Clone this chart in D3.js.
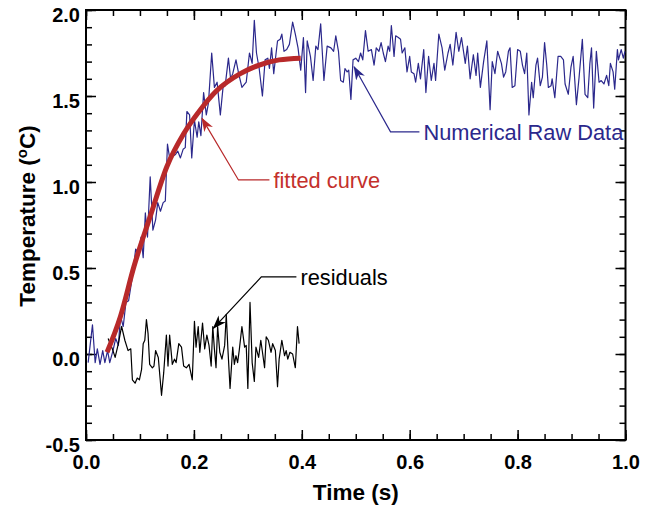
<!DOCTYPE html>
<html>
<head>
    <meta charset="UTF-8" />
    <title>Temperature fit</title>
    <script src="https://d3js.org/d3.v7.min.js"></script>
    <style>
        body { margin: 0; background: #fff; }
        text { font-family: "Liberation Sans", Arial, sans-serif; }
    </style>
</head>

<body>
<div id="main"></div>
<script type="text/javascript">

const rawTime = [0.004, 0.012, 0.017, 0.021, 0.026, 0.031, 0.035, 0.040, 0.044, 0.050, 0.055, 0.060, 0.064, 0.069, 0.074, 0.079,
  0.083, 0.087, 0.092, 0.098, 0.102, 0.106, 0.110, 0.114, 0.119, 0.124, 0.129, 0.133, 0.138, 0.143, 0.147, 0.151,
  0.156, 0.161, 0.166, 0.170, 0.175, 0.180, 0.184, 0.187, 0.192, 0.196, 0.201, 0.206, 0.209, 0.213, 0.218, 0.223,
  0.227, 0.233, 0.238, 0.243, 0.249, 0.254, 0.258, 0.264, 0.268, 0.272, 0.278, 0.283, 0.289, 0.297, 0.303, 0.308,
  0.312, 0.316, 0.321, 0.327, 0.332, 0.337, 0.340, 0.344, 0.348, 0.352, 0.355, 0.360, 0.363, 0.367, 0.372, 0.377,
  0.383, 0.388, 0.393, 0.398, 0.403, 0.407, 0.410, 0.416, 0.421, 0.426, 0.430, 0.435, 0.441, 0.447, 0.454, 0.459,
  0.463, 0.468, 0.472, 0.477, 0.480, 0.484, 0.487, 0.491, 0.495, 0.500, 0.505, 0.509, 0.513, 0.518, 0.523, 0.529,
  0.534, 0.538, 0.543, 0.547, 0.551, 0.555, 0.560, 0.563, 0.566, 0.571, 0.574, 0.579, 0.583, 0.586, 0.591, 0.595,
  0.600, 0.603, 0.608, 0.611, 0.616, 0.620, 0.626, 0.630, 0.635, 0.640, 0.645, 0.648, 0.654, 0.660, 0.665, 0.671,
  0.675, 0.680, 0.686, 0.691, 0.696, 0.703, 0.707, 0.712, 0.718, 0.723, 0.726, 0.731, 0.737, 0.743, 0.749, 0.753,
  0.758, 0.763, 0.770, 0.774, 0.778, 0.783, 0.786, 0.790, 0.795, 0.800, 0.805, 0.809, 0.813, 0.817, 0.821, 0.826,
  0.829, 0.834, 0.837, 0.842, 0.846, 0.850, 0.854, 0.857, 0.862, 0.864, 0.869, 0.875, 0.880, 0.885, 0.888, 0.894,
  0.899, 0.903, 0.909, 0.914, 0.920, 0.925, 0.930, 0.934, 0.937, 0.941, 0.946, 0.951, 0.955, 0.960, 0.965, 0.969,
  0.972, 0.977, 0.980, 0.985, 0.987, 0.992, 0.996, 0.999]
const rawTemp = [-0.05, 0.17, -0.05, 0.03, -0.06, 0.02, -0.05, 0.02, -0.05, 0.02, 0.09, 0.05, 0.22, 0.16, 0.30, 0.31,
  0.39, 0.47, 0.61, 0.59, 0.68, 0.56, 0.82, 0.68, 1.03, 0.72, 0.78, 0.88, 0.83, 0.88, 0.89, 1.22,
  1.12, 1.15, 1.16, 1.18, 1.14, 1.19, 1.20, 1.41, 1.39, 1.14, 1.36, 1.26, 1.35, 1.27, 1.52, 1.39,
  1.46, 1.75, 1.55, 1.58, 1.39, 1.55, 1.56, 1.72, 1.60, 1.63, 1.71, 1.63, 1.55, 1.58, 1.75, 1.69,
  1.94, 1.75, 1.66, 1.50, 1.71, 1.72, 1.66, 1.78, 1.63, 1.74, 1.82, 1.83, 1.86, 1.76, 1.77, 1.80,
  1.93, 1.86, 1.78, 1.65, 1.84, 1.52, 1.82, 1.73, 1.59, 1.79, 1.77, 1.92, 1.59, 1.79, 1.78, 1.76,
  1.85, 1.76, 1.59, 1.58, 1.66, 1.64, 1.65, 1.48, 1.71, 1.72, 1.70, 1.75, 1.71, 1.88, 1.76, 1.77,
  1.68, 1.78, 1.76, 1.81, 1.75, 1.70, 1.79, 1.76, 1.91, 1.73, 1.85, 1.84, 1.83, 1.75, 1.78, 1.64,
  1.73, 1.64, 1.63, 1.58, 1.69, 1.60, 1.77, 1.52, 1.73, 1.59, 1.69, 1.59, 1.86, 1.78, 1.65, 1.75,
  1.80, 1.68, 1.87, 1.76, 1.84, 1.69, 1.79, 1.60, 1.74, 1.62, 1.75, 1.55, 1.70, 1.82, 1.42, 1.70,
  1.63, 1.76, 1.69, 1.61, 1.64, 1.76, 1.78, 1.55, 1.56, 1.77, 1.76, 1.68, 1.63, 1.75, 1.39, 1.58,
  1.49, 1.68, 1.72, 1.56, 1.61, 1.81, 1.68, 1.55, 1.56, 1.60, 1.49, 1.73, 1.73, 1.71, 1.57, 1.51,
  1.67, 1.73, 1.45, 1.61, 1.83, 1.51, 1.49, 1.69, 1.78, 1.43, 1.76, 1.58, 1.59, 1.57, 1.62, 1.56,
  1.69, 1.64, 1.54, 1.77, 1.71, 1.77, 1.72, 1.76]

// fitted curve
const fitTime = [0.039, 0.064, 0.089, 0.119, 0.150, 0.181, 0.212, 0.242, 0.286, 0.321, 0.358, 0.398]
const fitTemp = [0.01, 0.22, 0.51, 0.80, 1.09, 1.28, 1.42, 1.53, 1.63, 1.68, 1.71, 1.72]

// residuals
const resTime = [0.041, 0.050, 0.054, 0.060, 0.066, 0.072, 0.078, 0.083, 0.086, 0.091, 0.095, 0.099, 0.103, 0.106, 0.109, 0.112,
  0.115, 0.118, 0.123, 0.126, 0.129, 0.134, 0.140, 0.144, 0.149, 0.152, 0.155, 0.160, 0.164, 0.167, 0.172, 0.177,
  0.181, 0.186, 0.191, 0.197, 0.201, 0.204, 0.208, 0.211, 0.216, 0.220, 0.224, 0.228, 0.232, 0.235, 0.238, 0.241,
  0.244, 0.248, 0.252, 0.257, 0.260, 0.263, 0.267, 0.272, 0.275, 0.278, 0.281, 0.284, 0.289, 0.294, 0.297, 0.300,
  0.304, 0.308, 0.312, 0.315, 0.320, 0.324, 0.328, 0.331, 0.334, 0.338, 0.343, 0.346, 0.351, 0.355, 0.358, 0.363,
  0.368, 0.371, 0.374, 0.378, 0.383, 0.388, 0.392, 0.395]
const resTemp = [0.09, 0.02, -0.02, 0.06, 0.16, 0.08, 0.02, 0.03, -0.15, -0.17, -0.14, -0.15, -0.09, 0.06, 0.08, 0.20,
  0.12, -0.06, -0.08, -0.07, 0.02, -0.02, -0.24, -0.11, 0.11, -0.07, 0.11, -0.06, -0.03, -0.05, 0.06, 0.04,
  -0.07, -0.08, -0.06, -0.15, 0.19, 0.04, 0.16, 0.01, 0.18, 0.03, 0.11, 0.05, -0.07, 0.16, 0.03, -0.08,
  0.16, 0.01, -0.03, 0.05, 0.23, 0.03, -0.20, 0.04, -0.06, -0.01, -0.05, 0.02, 0.16, 0.04, 0.05, -0.20,
  0.30, -0.05, -0.16, 0.04, -0.02, 0.08, -0.01, -0.08, 0.10, 0.08, 0.01, 0.06, 0.02, -0.19, -0.03, 0.08,
  -0.01, 0.02, -0.03, 0.01, 0.00, -0.08, 0.16, 0.06]

const xTicks = [0.0, 0.2, 0.4, 0.6, 0.8, 1.0]
const yTicks = [-0.5, 0.0, 0.5, 1.0, 1.5, 2.0]

const blue = '#2b288c'
const red = '#b8292a'

const x = d3.scaleLinear().domain([0, 1]).range([86, 625.5])
const y = d3.scaleLinear().domain([-0.5, 2.0]).range([440, 10])

const svg = d3.select('#main').append('svg')
  .attr('width', 657)
  .attr('height', 510)

const fmt = d => d.toFixed(1)

// inward ticks on all four sides, minor + major
const sides = [
  {axis: d3.axisBottom(x), at: `translate(0,${y(-0.5)})`, major: xTicks, minor: d3.range(0, 1.0001, 0.05), label: true},
  {axis: d3.axisTop(x), at: `translate(0,${y(2.0)})`, major: xTicks, minor: d3.range(0, 1.0001, 0.05), label: false},
  {axis: d3.axisLeft(y), at: `translate(${x(0)},0)`, major: yTicks, minor: d3.range(-0.5, 2.0001, 0.1), label: true},
  {axis: d3.axisRight(y), at: `translate(${x(1)},0)`, major: yTicks, minor: d3.range(-0.5, 2.0001, 0.1), label: false}
]

sides.forEach(s => {
  const gMinor = svg.append('g').attr('transform', s.at)
    .call(s.axis.tickValues(s.minor).tickSize(-6).tickFormat(''))
  gMinor.select('.domain').remove()
  gMinor.selectAll('line').attr('stroke-width', 1.5)

  const g = svg.append('g').attr('transform', s.at)
    .call(s.axis.tickValues(s.major).tickSize(-10).tickFormat(s.label ? fmt : '').tickPadding(6))
  g.select('.domain').remove()
  g.selectAll('line').attr('stroke-width', 1.5)
  g.selectAll('text')
    .attr('font-family', '"Liberation Sans", Arial, sans-serif')
    .attr('font-size', 20)
    .attr('font-weight', 'bold')
    .attr('fill', '#000')
})

// tick label placement tweaks
svg.selectAll('g').filter(function() { return this.getAttribute('transform') === `translate(0,${y(-0.5)})` })
  .selectAll('text').attr('y', 15).attr('dy', '0.71em')
svg.selectAll('g').filter(function() { return this.getAttribute('transform') === `translate(${x(0)},0)` })
  .selectAll('text').attr('x', -6).attr('dy', '0.55em')

// frame
svg.append('rect')
  .attr('x', x(0)).attr('y', y(2.0))
  .attr('width', x(1) - x(0)).attr('height', y(-0.5) - y(2.0))
  .attr('fill', 'none').attr('stroke', '#000').attr('stroke-width', 2)

const line = d3.line().x(d => x(d[0])).y(d => y(d[1]))

svg.append('path')
  .datum(d3.zip(rawTime, rawTemp))
  .attr('d', line)
  .attr('fill', 'none')
  .attr('stroke', blue)
  .attr('stroke-width', 1.2)
  .attr('stroke-linejoin', 'round')

svg.append('path')
  .datum(d3.zip(resTime, resTemp))
  .attr('d', line)
  .attr('fill', 'none')
  .attr('stroke', '#000')
  .attr('stroke-width', 1.2)
  .attr('stroke-linejoin', 'round')

svg.append('path')
  .datum(d3.zip(fitTime, fitTemp))
  .attr('d', line.curve(d3.curveMonotoneX))
  .attr('fill', 'none')
  .attr('stroke', red)
  .attr('stroke-width', 5)

// annotations: arrow tip, elbow, end of horizontal leader (data units)
const notes = [
  {text: 'Numerical Raw Data', color: blue, textColor: blue, tip: [0.497, 1.67], elbow: [0.5645, 1.292], end: 0.618},
  {text: 'fitted curve', color: red, textColor: '#c4302b', tip: [0.215, 1.37], elbow: [0.2826, 1.012], end: 0.34},
  {text: 'residuals', color: '#000', textColor: '#000', tip: [0.236, 0.149], elbow: [0.325, 0.448], end: 0.39}
]

const defs = svg.append('defs')
notes.forEach((d, i) => {
  defs.append('marker')
    .attr('id', 'arrow' + i)
    .attr('viewBox', '0 0 14 10')
    .attr('refX', 13).attr('refY', 5)
    .attr('markerWidth', 14).attr('markerHeight', 10)
    .attr('markerUnits', 'userSpaceOnUse')
    .attr('orient', 'auto')
    .append('path')
    .attr('d', 'M0,0 L14,5 L0,10 L4,5 Z')
    .attr('fill', d.color)
})

notes.forEach((d, i) => {
  svg.append('path')
    .attr('d', `M${x(d.end)},${y(d.elbow[1])} L${x(d.elbow[0])},${y(d.elbow[1])} L${x(d.tip[0])},${y(d.tip[1])}`)
    .attr('fill', 'none')
    .attr('stroke', d.color)
    .attr('stroke-width', 1.2)
    .attr('marker-end', `url(#arrow${i})`)

  svg.append('text')
    .attr('x', x(d.end) + 4)
    .attr('y', y(d.elbow[1]) + 8)
    .attr('font-size', 21.8)
    .attr('fill', d.textColor)
    .text(d.text)
})

// axis titles
svg.append('text')
  .attr('x', (x(0) + x(1)) / 2)
  .attr('y', 500)
  .attr('text-anchor', 'middle')
  .attr('font-size', 22.5)
  .attr('font-weight', 'bold')
  .text('Time (s)')

const yTitle = svg.append('text')
  .attr('transform', 'translate(35,216) rotate(-90)')
  .attr('text-anchor', 'middle')
  .attr('font-size', 22.5)
  .attr('font-weight', 'bold')
yTitle.append('tspan').text('Temperature (')
yTitle.append('tspan').attr('font-size', 15).attr('dy', -8).text('o')
yTitle.append('tspan').attr('dy', 8).text('C)')

</script>
</body>
</html>
